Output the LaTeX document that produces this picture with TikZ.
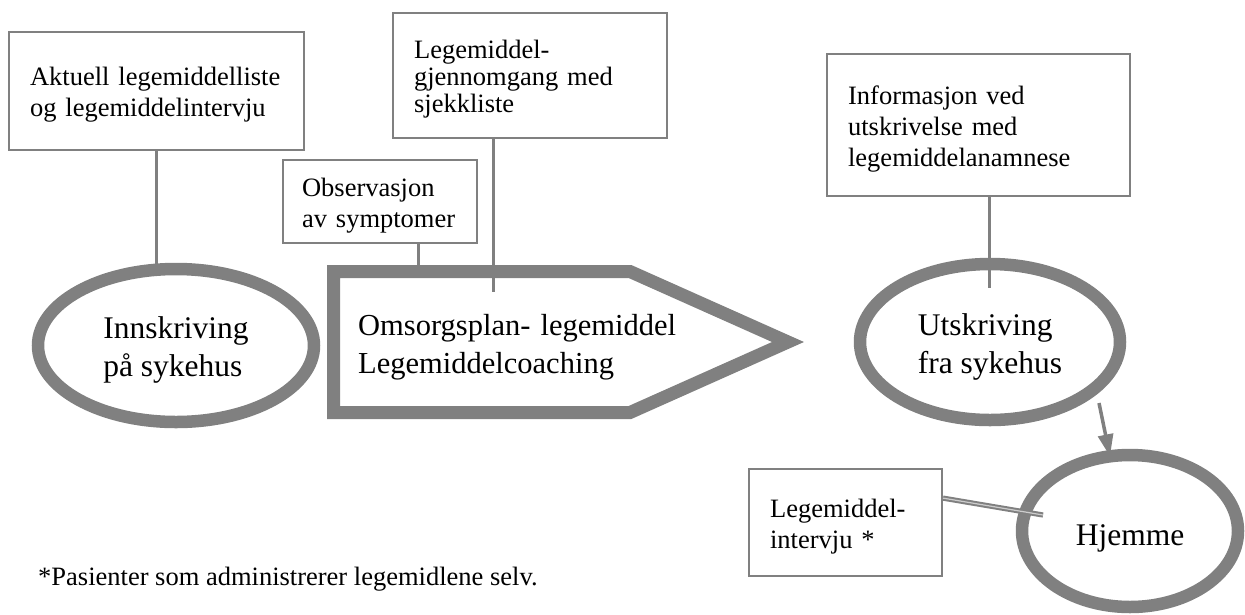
\documentclass[tikz,border=0pt]{standalone}
\usepackage{fontspec}
\setmainfont{Liberation Serif}
\usetikzlibrary{arrows.meta,shapes.geometric}
\newcommand{\bokstekst}[1]{\fontsize{26.5}{#1}\selectfont\hyphenpenalty=10000\relax}

\begin{document}
\begin{tikzpicture}[x=1pt, y=-1pt,
  infobox/.style={draw=gray, line width=2.2pt, rectangle, anchor=north west,
    inner xsep=21pt, inner ysep=0pt, align=left, text height=26pt,
    font=\bokstekst{31}},
  stasjon/.style={draw=gray, line width=12.5pt, ellipse, inner sep=0pt,
    outer sep=0pt, align=left, text height=69.5pt,
    font=\fontsize{31.5}{38}\selectfont},
  kobling/.style={draw=gray, line width=3pt}]
\useasboundingbox (0,0) rectangle (1245,614);
% tekstbokser
\node[infobox, text width=252.8pt, minimum height=118pt] (aktuell) at (8,31) {Aktuell legemiddelliste\\og legemiddelintervju};
\node[infobox, text width=231.8pt, minimum height=125pt, font=\bokstekst{27}] (lmg) at (392,12) {Legemiddel-\\gjennomgang med\\sjekkliste};
\node[infobox, text width=156pt, inner xsep=19pt, minimum height=83pt] (obs) at (282,159) {Observasjon\\av symptomer};
\node[infobox, text width=260.8pt, minimum height=142pt] (info) at (826,53) {Informasjon ved\\utskrivelse med\\legemiddelanamnese};
\node[infobox, text width=150.8pt, minimum height=107pt] (interv) at (748,468) {Legemiddel-\\intervju *};
% ellipser
\node[stasjon, minimum width=276pt, minimum height=153pt] (innskr) at (176,345.5) {Innskriving\\på sykehus};
\node[stasjon, minimum width=260pt, minimum height=156pt] (utskr) at (990,342) {Utskriving\\fra sykehus};
\node[stasjon, minimum width=216pt, minimum height=152pt, text height=35pt] (hjemme) at (1130,531) {Hjemme};
% pil-boks
\draw[gray, line width=13pt, line join=miter] (333.5,271.5) -- (630,271.5) -- (788,342) -- (630,412.5) -- (333.5,412.5) -- cycle;
\node[anchor=base west, text width=360pt, inner sep=0pt, align=left, font=\fontsize{30.5}{38}\selectfont] (omsorg) at (358,335) {Omsorgsplan- legemiddel\\Legemiddelcoaching};
% koblinger
\coordinate (lmgslutt) at (493,292);
\coordinate (obsslutt) at (418,276);
\coordinate (infoslutt) at (989,288);
\coordinate (pilstart) at (1099,403);
\coordinate (intslutt) at (1043,515);
\draw[kobling] (aktuell.south) -- (aktuell.south |- innskr.north);
\draw[kobling] (lmgslutt |- lmg.south) -- (lmgslutt);
\draw[kobling] (obsslutt |- obs.south) -- (obsslutt);
\draw[kobling] (infoslutt |- info.south) -- (infoslutt);
\draw[gray, line width=3.5pt, -{Triangle[length=22pt,width=15pt]}] (pilstart) -- (hjemme.105);
\draw[gray, line width=2pt, double=gray!40, double distance=1.2pt] ([yshift=24.5pt]interv.east) -- (intslutt);
% fotnote
\node[anchor=base west, inner sep=0pt, font=\fontsize{26.5}{31}\selectfont] (fotnote) at (38,585) {*Pasienter som administrerer legemidlene selv.};
\end{tikzpicture}
\end{document}
